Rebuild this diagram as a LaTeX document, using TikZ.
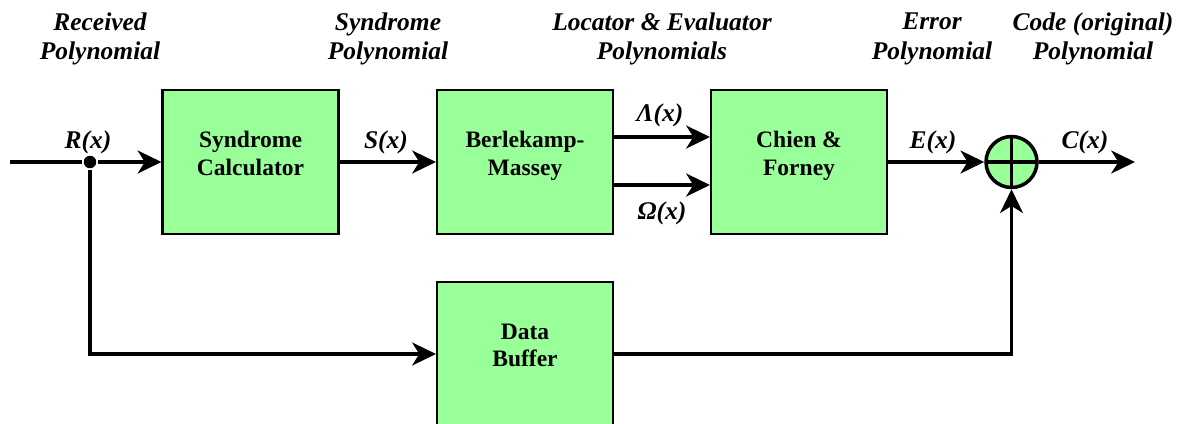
\documentclass[tikz,border=0pt]{standalone}
\usepackage{fontspec}
\setmainfont{Liberation Serif}
\newfontfamily\diagfont{Liberation Serif}
\usetikzlibrary{arrows.meta}
\definecolor{blockgreen}{RGB}{153,255,153}
\begin{document}
\begin{tikzpicture}[x=0.02cm,y=-0.02cm,line width=2pt,
        >={Stealth[length=13.5pt,width=13pt,inset=4pt]},
        block/.style={draw,fill=blockgreen,line width=1.2pt,
            minimum width=3.52cm,minimum height=2.88cm,align=center,
            text depth=10pt,
            font=\diagfont\fontsize{13.4}{15.8}\selectfont\bfseries},
        sig/.style={font=\diagfont\fontsize{14.5}{16.8}\selectfont\bfseries\itshape},
        title/.style={sig,align=center}]
    \useasboundingbox (0,0) rectangle (1189,423);
    % decoder blocks
    \node[block] (syn) at (250.5,162) {Syndrome\\Calculator};
    \node[block] (bm) at (525,162) {Berlekamp-\\Massey};
    \node[block] (cf) at (799,162) {Chien \&\\Forney};
    \node[block] (buf) at (525,354) {Data\\Buffer};
    \node[draw,circle,fill=blockgreen,minimum size=1.02cm,inner sep=0pt,
        path picture={
            \draw (path picture bounding box.north) -- (path picture bounding box.south);
            \draw (path picture bounding box.west) -- (path picture bounding box.east);
        }] (sum) at (1011.5,162) {};
    \node[circle,fill,inner sep=0pt,minimum size=0.25cm] (tap) at (90,162) {};
    \coordinate (in) at (10,162);
    \coordinate (out) at (1135,162);
    % signal paths
    \draw (in) -- (tap);
    \draw[->] (tap) -- (syn);
    \draw[->] (syn) -- (bm);
    \draw[->] ([yshift=0.5cm]bm.east) -- ([yshift=0.5cm]cf.west);
    \draw[->] ([yshift=-0.46cm]bm.east) -- ([yshift=-0.46cm]cf.west);
    \draw[->] (cf) -- (sum);
    \draw[->] (sum) -- (out);
    \draw[->] (tap) |- (buf);
    \draw[->] (buf) -| (sum);
    % signal names
    \node[sig] (rlab) at (88,142) {R(x)};
    \node[sig] (slab) at (386,142) {S(x)};
    \node[sig] (llab) at (660,115) {Λ(x)};
    \node[sig] (olab) at (662,213) {Ω(x)};
    \node[sig] (elab) at (933,142) {E(x)};
    \node[sig] (clab) at (1085,142) {C(x)};
    % polynomial names along the top
    \foreach \x/\name/\txt in {100/rec/{Received\\Polynomial},
            388/syn/{Syndrome\\Polynomial},
            662/loc/{Locator \& Evaluator\\Polynomials},
            932/err/{Error\\Polynomial},
            1093/code/{Code (original)\\Polynomial}}
        \node[title] (t\name) at (\x,39) {\txt};
\end{tikzpicture}
\end{document}
